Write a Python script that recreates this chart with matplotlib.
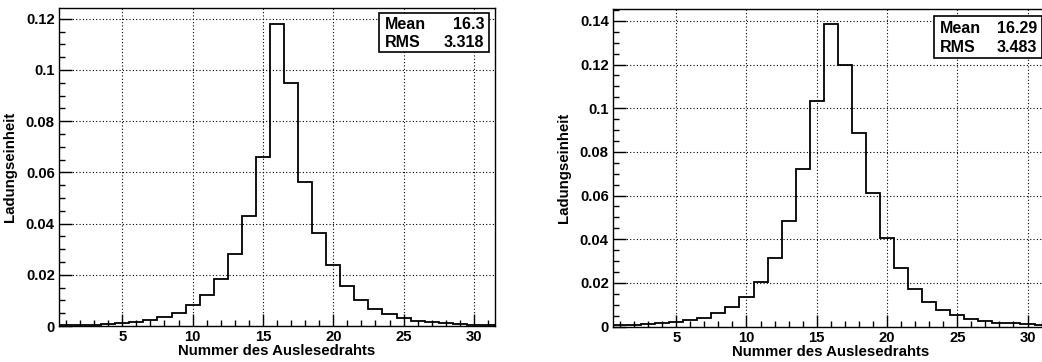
import numpy as np
import matplotlib
matplotlib.use("Agg")
import matplotlib.pyplot as plt
from matplotlib.patches import Rectangle
from matplotlib.ticker import MultipleLocator, FuncFormatter

# Wire numbers (bin centres)
wires = list(range(1, 32))

# Left histogram (charge fraction per wire)
left_values = [0.0003, 0.0004, 0.0005, 0.0008, 0.0010, 0.0014, 0.0022, 0.0034,
               0.0052, 0.0081, 0.0120, 0.0185, 0.0283, 0.0431, 0.0659, 0.1180,
               0.0948, 0.0561, 0.0363, 0.0237, 0.0156, 0.0100, 0.0068, 0.0046,
               0.0031, 0.0021, 0.0014, 0.0010, 0.0008, 0.0005, 0.0004]
left_stats = ("16.3", "3.318")

# Right histogram
right_values = [0.0006, 0.0008, 0.0011, 0.0014, 0.0020, 0.0028, 0.0040, 0.0060,
                0.0090, 0.0134, 0.0205, 0.0316, 0.0484, 0.0721, 0.1032, 0.1386,
                0.1198, 0.0886, 0.0613, 0.0405, 0.0266, 0.0174, 0.0113, 0.0075,
                0.0052, 0.0035, 0.0024, 0.0018, 0.0014, 0.0011, 0.0008]
right_stats = ("16.29", "3.483")

xlabel = "Nummer des Auslesedrahts"
ylabel = "Ladungseinheit"

W, H = 1042, 362
fig = plt.figure(figsize=(W / 100, H / 100), dpi=100)
plt.rcParams['font.family'] = ['Liberation Sans', 'DejaVu Sans']
plt.rcParams['font.weight'] = 'bold'


def make_panel(rect_px, values, ymax, stats, box_px, ylabel_x):
    l, t, r, b = rect_px
    ax = fig.add_axes([l / W, 1 - b / H, (r - l) / W, (b - t) / H])
    edges = np.arange(len(wires) + 1) + wires[0] - 0.5
    ax.stairs(values, edges, color='black', lw=1.3)
    ax.set_xlim(edges[0], edges[-1])
    ax.set_ylim(0, ymax)
    ax.xaxis.set_major_locator(MultipleLocator(5))
    ax.xaxis.set_minor_locator(MultipleLocator(1))
    ax.yaxis.set_major_locator(MultipleLocator(0.02))
    ax.yaxis.set_minor_locator(MultipleLocator(0.005))
    ax.yaxis.set_major_formatter(FuncFormatter(lambda v, p: "%g" % round(v, 4)))
    ax.tick_params(which='both', direction='in', top=False, right=False,
                   labelsize=10.7, width=1.0, color='black')
    ax.tick_params(which='major', length=9, pad=3)
    ax.tick_params(which='minor', length=4.5)
    for lab in ax.get_xticklabels() + ax.get_yticklabels():
        lab.set_fontweight('bold')
    ax.grid(True, which='major', color='black', linestyle=(0, (1, 2)), lw=0.8)
    for s in ax.spines.values():
        s.set_linewidth(1.0)
    ax.set_xlabel(xlabel, fontsize=10.8, fontweight='bold', labelpad=0)
    ax.set_ylabel(ylabel, fontsize=10.8, fontweight='bold')
    ax.yaxis.set_label_coords((ylabel_x - l) / (r - l), 0.5)
    # stats box
    bx0, by0, bx1, by1 = box_px
    fx = lambda px: (px - l) / (r - l)
    fy = lambda py: (b - py) / (b - t)
    ax.add_patch(Rectangle((fx(bx0), fy(by1)), fx(bx1) - fx(bx0), fy(by0) - fy(by1),
                           transform=ax.transAxes, facecolor='white',
                           edgecolor='black', lw=1.2, zorder=5, clip_on=False))
    rows = [("Mean", stats[0]), ("RMS", stats[1])]
    ys = [by0 + (by1 - by0) * 0.30, by0 + (by1 - by0) * 0.76]
    for (k, v), yy in zip(rows, ys):
        ax.text(fx(bx0 + 6), fy(yy), k, transform=ax.transAxes, ha='left',
                va='center', fontsize=11.5, fontweight='bold', zorder=6)
        ax.text(fx(bx1 - 5), fy(yy), v, transform=ax.transAxes, ha='right',
                va='center', fontsize=11.5, fontweight='bold', zorder=6)
    return ax


make_panel((59, 8.3, 495, 326), left_values, 0.1241, left_stats,
           (379, 13, 489, 52), 17)
make_panel((613, 9.3, 1048.6, 326.5), right_values, 0.1453, right_stats,
           (934, 15.7, 1042, 57.7), 571)

fig.savefig("out.png", dpi=100)
